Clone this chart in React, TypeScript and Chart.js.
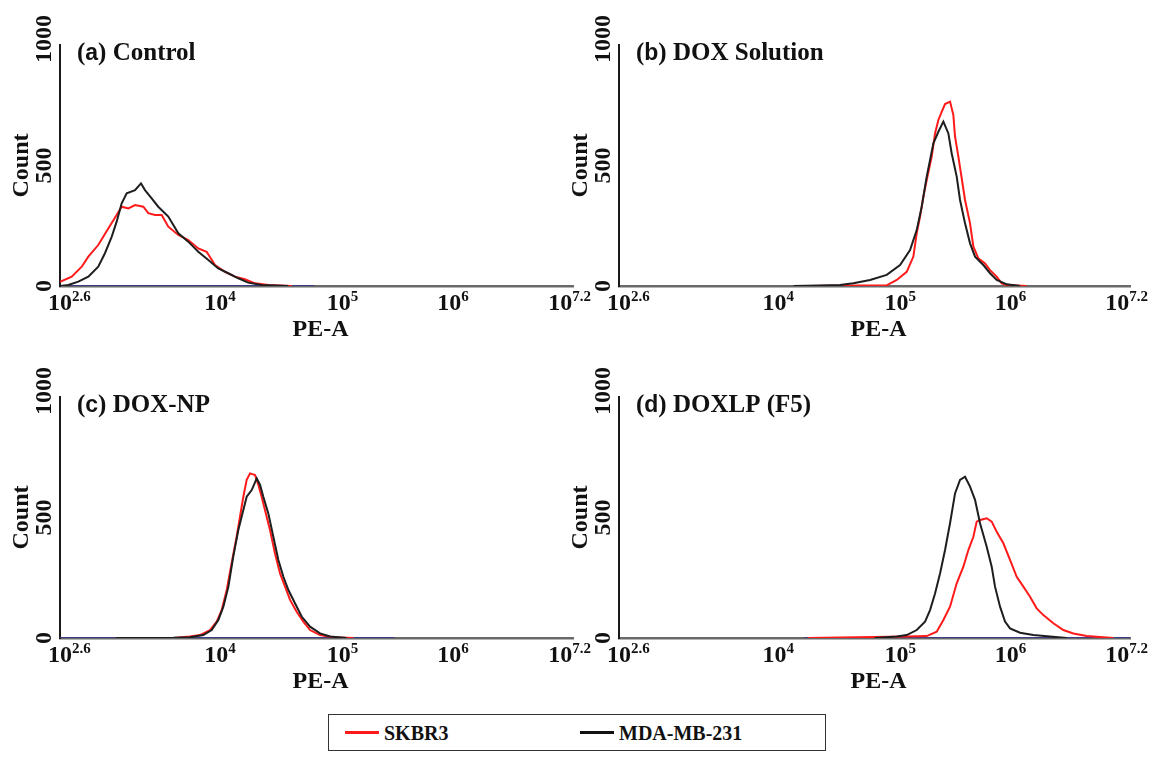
import React, { useEffect, useRef } from "react";
import { Chart, registerables } from "chart.js";

Chart.register(...registerables);

// ---------- labels ----------
const panelLetters = ["a", "b", "c", "d"];
const panelNames = ["Control", "DOX Solution", "DOX-NP", "DOXLP (F5)"];
const seriesNames = ["SKBR3", "MDA-MB-231"];
const xTickExponents = [2.6, 4, 5, 6, 7.2];
const yTickValues = [0, 500, 1000];
const xAxisTitle = "PE-A";
const yAxisTitle = "Count";

// ---------- (a) Control ----------
const controlSkbr3Exp = [2.6, 2.705, 2.795, 2.854, 2.943, 3.033, 3.108, 3.153, 3.213, 3.273, 3.347, 3.392, 3.452, 3.512, 3.571, 3.661, 3.75, 3.84, 3.915, 3.99, 4.079, 4.169, 4.258, 4.348, 4.468, 4.677];
const controlSkbr3Count = [17, 39, 80, 122, 170, 239, 295, 329, 322, 336, 329, 302, 295, 295, 246, 212, 191, 156, 142, 87, 59, 39, 28, 11, 4, 0];
const controlMdaExp = [2.6, 2.674, 2.764, 2.854, 2.943, 3.003, 3.064, 3.108, 3.153, 3.198, 3.273, 3.326, 3.362, 3.422, 3.481, 3.571, 3.661, 3.75, 3.84, 3.93, 4.019, 4.109, 4.199, 4.288, 4.408, 4.647];
const controlMdaCount = [0, 4, 18, 39, 80, 136, 205, 267, 343, 385, 398, 426, 398, 364, 329, 288, 219, 184, 142, 108, 73, 53, 32, 14, 4, 0];
const controlBaseExp = [2.6, 4.88];
const controlBaseCount = [0, 0];

// ---------- (b) DOX Solution ----------
const solutionSkbr3Exp = [4.31, 5.01, 5.1, 5.19, 5.25, 5.28, 5.31, 5.34, 5.37, 5.415, 5.445, 5.475, 5.505, 5.535, 5.58, 5.61, 5.625, 5.655, 5.685, 5.715, 5.76, 5.79, 5.835, 5.895, 5.94, 6.0, 6.045, 6.09, 6.27];
const solutionSkbr3Count = [0, 3, 25, 59, 122, 219, 288, 371, 440, 537, 633, 689, 723, 755, 765, 709, 620, 537, 447, 357, 260, 163, 115, 94, 66, 39, 11, 4, 0];
const solutionMdaExp = [4.17, 4.4, 4.589, 4.71, 4.86, 5.01, 5.13, 5.22, 5.28, 5.325, 5.37, 5.43, 5.475, 5.52, 5.565, 5.595, 5.64, 5.67, 5.715, 5.76, 5.805, 5.88, 5.94, 6.0, 6.09, 6.21];
const solutionMdaCount = [0, 2, 4, 11, 25, 46, 87, 149, 232, 329, 454, 592, 640, 682, 633, 550, 454, 357, 260, 177, 122, 87, 53, 25, 7, 0];
const solutionBaseExp: number[] = [];
const solutionBaseCount: number[] = [];

// ---------- (c) DOX-NP ----------
const npSkbr3Exp = [3.616, 3.766, 3.855, 3.945, 4.005, 4.05, 4.095, 4.139, 4.184, 4.214, 4.244, 4.274, 4.304, 4.349, 4.379, 4.408, 4.438, 4.483, 4.528, 4.573, 4.618, 4.663, 4.722, 4.782, 4.842, 4.932, 5.051, 5.23];
const npSkbr3Count = [0, 6, 12, 33, 68, 116, 199, 310, 420, 503, 586, 656, 683, 676, 635, 586, 531, 448, 351, 268, 213, 158, 109, 68, 33, 12, 3, 0];
const npMdaExp = [3.1, 3.616, 3.766, 3.885, 3.96, 4.02, 4.065, 4.11, 4.154, 4.199, 4.244, 4.274, 4.319, 4.364, 4.394, 4.423, 4.468, 4.513, 4.558, 4.603, 4.648, 4.707, 4.767, 4.842, 4.932, 5.021, 5.171];
const npMdaCount = [0, 1, 3, 12, 33, 75, 130, 213, 339, 448, 531, 586, 614, 662, 635, 586, 517, 420, 324, 254, 199, 144, 89, 47, 19, 6, 0];
const npBaseExp = [2.6, 5.6];
const npBaseCount = [0, 0];

// ---------- (d) DOXLP (F5) ----------
const lpSkbr3Exp = [4.3, 4.739, 5.19, 5.37, 5.46, 5.52, 5.58, 5.64, 5.7, 5.745, 5.79, 5.82, 5.85, 5.91, 5.955, 6.0, 6.06, 6.12, 6.18, 6.24, 6.3, 6.36, 6.42, 6.51, 6.6, 6.69, 6.81, 6.96, 7.05];
const lpSkbr3Count = [0, 3, 6, 8, 26, 75, 130, 227, 296, 365, 420, 483, 490, 497, 483, 441, 393, 324, 254, 213, 171, 123, 95, 61, 33, 19, 8, 3, 0];
const lpMdaExp = [4.9, 5.1, 5.19, 5.28, 5.355, 5.4, 5.445, 5.49, 5.535, 5.58, 5.625, 5.67, 5.715, 5.76, 5.805, 5.85, 5.91, 5.955, 5.985, 6.03, 6.075, 6.12, 6.21, 6.33, 6.48, 6.63];
const lpMdaCount = [0, 6, 12, 33, 68, 116, 185, 268, 365, 476, 600, 656, 669, 628, 573, 476, 379, 296, 213, 130, 68, 40, 22, 12, 6, 0];
const lpBaseExp = [4.27, 7.2];
const lpBaseCount = [0, 0];

const panelData = [
  { red: [controlSkbr3Exp, controlSkbr3Count], black: [controlMdaExp, controlMdaCount], base: [controlBaseExp, controlBaseCount] },
  { red: [solutionSkbr3Exp, solutionSkbr3Count], black: [solutionMdaExp, solutionMdaCount], base: [solutionBaseExp, solutionBaseCount] },
  { red: [npSkbr3Exp, npSkbr3Count], black: [npMdaExp, npMdaCount], base: [npBaseExp, npBaseCount] },
  { red: [lpSkbr3Exp, lpSkbr3Count], black: [lpMdaExp, lpMdaCount], base: [lpBaseExp, lpBaseCount] },
];

// label nudges (px) applied to tick labels, matching the original figure's placement
const xTickLabelNudge = [0, 0, 11, 10, 0];

const RED = "#ff1a1a";
const BLACK = "#1e1e1e";
const NAVY = "#3c3c86";
const TEXT = "#111111";
const SERIF = '"Liberation Serif", "Times New Roman", serif';
const SANS = '"Liberation Sans", Arial, sans-serif';

function toPoints(exps: number[], counts: number[]) {
  return exps.map((e, i) => ({ x: Math.pow(10, e), y: counts[i] }));
}

function expLabel(e: number) {
  return Number.isInteger(e) ? String(e) : e.toFixed(1);
}

const textPlugin = {
  id: "panelText",
  afterDraw(chart: any) {
    const opts = chart.options.plugins.panelText;
    const ctx = chart.ctx;
    const { left, right, top, bottom } = chart.chartArea;
    const xs = chart.scales.x;
    const ys = chart.scales.y;
    ctx.save();
    ctx.fillStyle = TEXT;

    // title
    ctx.textAlign = "left";
    ctx.textBaseline = "alphabetic";
    let cx = left + 17;
    const ty = top + 15;
    ctx.font = `bold 25px ${SERIF}`;
    ctx.fillText("(", cx, ty);
    cx += ctx.measureText("(").width;
    ctx.font = `bold 23px ${SANS}`;
    ctx.fillText(opts.letter, cx, ty);
    cx += ctx.measureText(opts.letter).width;
    ctx.font = `bold 25px ${SERIF}`;
    ctx.fillText(") " + opts.name, cx, ty);

    // x tick labels
    xTickExponents.forEach((e, i) => {
      const px = xs.getPixelForValue(Math.pow(10, e));
      ctx.font = `bold 24px ${SERIF}`;
      const baseW = ctx.measureText("10").width;
      const sup = expLabel(e);
      ctx.font = `bold 15px ${SERIF}`;
      const supW = ctx.measureText(sup).width;
      let lx = px - baseW / 2 + xTickLabelNudge[i];
      if (i === xTickExponents.length - 1) lx = px + 18 - (baseW + supW);
      ctx.font = `bold 24px ${SERIF}`;
      ctx.fillText("10", lx, bottom + 24);
      ctx.font = `bold 15px ${SERIF}`;
      ctx.fillText(sup, lx + baseW, bottom + 15);
    });

    // x title
    ctx.font = `bold 24px ${SERIF}`;
    ctx.textAlign = "center";
    ctx.fillText(xAxisTitle, (left + right) / 2 + 4, bottom + 50);

    // y tick labels (rotated)
    ctx.textBaseline = "middle";
    yTickValues.forEach((v, i) => {
      const py = ys.getPixelForValue(v) - (i === yTickValues.length - 1 ? 6 : 0);
      ctx.save();
      ctx.translate(left - 15, py);
      ctx.rotate(-Math.PI / 2);
      ctx.font = `bold 24px ${SERIF}`;
      ctx.fillText(String(v), 0, 0);
      ctx.restore();
    });

    // y title
    ctx.save();
    ctx.translate(left - 38, (top + bottom) / 2);
    ctx.rotate(-Math.PI / 2);
    ctx.font = `bold 24px ${SERIF}`;
    ctx.fillText(yAxisTitle, 0, 0);
    ctx.restore();

    ctx.restore();
  },
};

const CANVAS_W = 600;
const CANVAS_H = 352;

function Panel({ index, left, top, padLeft, padRight }: { index: number; left: number; top: number; padLeft: number; padRight: number }) {
  const ref = useRef<HTMLCanvasElement | null>(null);
  useEffect(() => {
    if (!ref.current) return;
    const d = panelData[index];
    const chart = new Chart(ref.current, {
      type: "line",
      data: {
        datasets: [
          { label: seriesNames[1], data: toPoints(d.black[0], d.black[1]), borderColor: BLACK, borderWidth: 2, pointRadius: 0, tension: 0, fill: false },
          { label: seriesNames[0], data: toPoints(d.red[0], d.red[1]), borderColor: RED, borderWidth: 2, pointRadius: 0, tension: 0, fill: false },
          { label: "baseline", data: toPoints(d.base[0], d.base[1]), borderColor: NAVY, borderWidth: 2, pointRadius: 0, tension: 0, fill: false },
        ],
      },
      options: {
        responsive: false,
        animation: false,
        devicePixelRatio: 1,
        layout: { padding: { left: padLeft, right: padRight, top: 45, bottom: 66 } },
        scales: {
          x: {
            type: "logarithmic",
            min: Math.pow(10, 2.6),
            max: Math.pow(10, 7.2),
            ticks: { display: false },
            grid: { display: false, drawTicks: false, tickLength: 0 },
            border: { display: true, color: "#6a6a6a", width: 2.5 },
          },
          y: {
            type: "linear",
            min: 0,
            max: 1000,
            ticks: { display: false },
            grid: { display: false, drawTicks: false, tickLength: 0 },
            border: { display: true, color: "#1a1a1a", width: 2 },
          },
        },
        plugins: {
          legend: { display: false },
          tooltip: { enabled: false },
          panelText: { letter: panelLetters[index], name: panelNames[index] },
        } as any,
      },
      plugins: [textPlugin],
    } as any);
    return () => chart.destroy();
  }, [index, padLeft, padRight]);
  return (
    <canvas
      ref={ref}
      width={CANVAS_W}
      height={CANVAS_H}
      style={{ position: "absolute", left, top, width: CANVAS_W, height: CANVAS_H }}
    />
  );
}

function LegendBox() {
  const textStyle: React.CSSProperties = {
    position: "absolute",
    top: 6,
    lineHeight: "24px",
    fontFamily: SERIF,
    fontWeight: "bold",
    fontSize: 20,
    color: TEXT,
    whiteSpace: "nowrap",
  };
  return (
    <div
      style={{
        position: "absolute",
        left: 328,
        top: 714,
        width: 498,
        height: 37,
        border: "1.5px solid #333",
        boxSizing: "border-box",
        background: "#fff",
      }}
    >
      <div style={{ position: "absolute", left: 16, top: 16, width: 34, height: 3, background: RED }} />
      <div style={{ ...textStyle, left: 55 }}>{seriesNames[0]}</div>
      <div style={{ position: "absolute", left: 251, top: 16, width: 34, height: 3, background: "#111" }} />
      <div style={{ ...textStyle, left: 290 }}>{seriesNames[1]}</div>
    </div>
  );
}

export default function App() {
  return (
    <div style={{ position: "absolute", left: 0, top: 0, width: 1160, height: 766, background: "#fff", overflow: "hidden" }}>
      <Panel index={0} left={0} top={0} padLeft={60} padRight={27} />
      <Panel index={1} left={560} top={0} padLeft={59} padRight={30} />
      <Panel index={2} left={0} top={352} padLeft={60} padRight={27} />
      <Panel index={3} left={560} top={352} padLeft={59} padRight={30} />
      <LegendBox />
    </div>
  );
}
